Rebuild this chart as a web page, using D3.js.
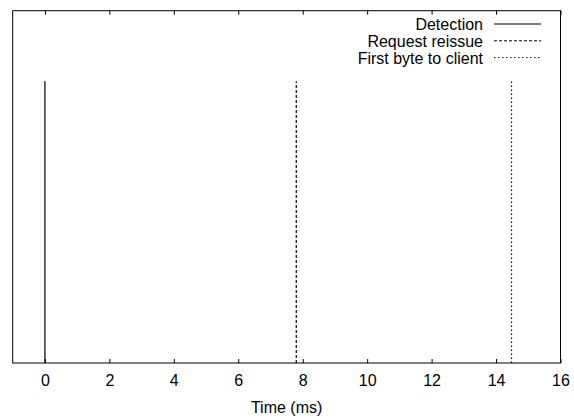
<!DOCTYPE html>
<html>
<head>
<meta charset="utf-8">
<script src="https://cdn.jsdelivr.net/npm/d3@7"></script>
<style>
  body { margin: 0; background: #fff; }
  svg { font-family: "Liberation Sans", Arial, sans-serif; }
</style>
</head>
<body>
<svg width="574" height="419"></svg>
<script>
// events on the time axis (ms)
const eventNames = ['Detection', 'Request reissue', 'First byte to client'];
const eventTimes = [0, 7.8, 14.48];
const eventHeights = [1, 1, 1];
const xTicks = [0, 2, 4, 6, 8, 10, 12, 14, 16];
const dashes = [null, '3,2', '1.5,2.5'];

let svg = d3.select('svg');
const plotLeft = 12.7, plotRight = 560.5, plotTop = 10.7, plotBottom = 363;
const fontPx = 16;

let x = d3.scaleLinear().domain([-1, 16]).range([plotLeft, plotRight]);
let y = d3.scaleLinear().domain([0, 1.25]).range([plotBottom, plotTop]);

// frame
svg.append('rect')
  .attr('x', plotLeft).attr('y', plotTop)
  .attr('width', plotRight - plotLeft).attr('height', plotBottom - plotTop)
  .attr('fill', 'none').attr('stroke', '#000').attr('stroke-width', 1);

// bottom axis with labels
let xAxis = svg.append('g')
  .attr('transform', 'translate(0,' + plotBottom + ')')
  .call(d3.axisBottom(x).tickValues(xTicks).tickSize(-4).tickPadding(12).tickFormat(d3.format('d')));
xAxis.select('.domain').remove();
xAxis.selectAll('text')
  .attr('font-size', fontPx).attr('fill', '#000')
  .attr('font-family', 'Liberation Sans, Arial, sans-serif');

// mirrored ticks on top
let xTop = svg.append('g')
  .attr('transform', 'translate(0,' + plotTop + ')')
  .call(d3.axisTop(x).tickValues(xTicks).tickSize(-4).tickFormat(''));
xTop.select('.domain').remove();

svg.append('text')
  .attr('x', (plotLeft + plotRight) / 2).attr('y', 413)
  .attr('text-anchor', 'middle').attr('font-size', fontPx)
  .text('Time (ms)');

// impulses
svg.selectAll('line.ev')
  .data(eventTimes)
  .enter().append('line')
  .attr('class', 'ev')
  .attr('x1', d => x(d)).attr('x2', d => x(d))
  .attr('y1', y(0)).attr('y2', (d, i) => y(eventHeights[i]))
  .attr('stroke', '#000').attr('stroke-width', 1.2)
  .attr('stroke-dasharray', (d, i) => dashes[i]);

// legend
let legend = svg.selectAll('g.leg')
  .data(eventNames)
  .enter().append('g')
  .attr('class', 'leg')
  .attr('transform', (d, i) => 'translate(0,' + (24 + i * 16.8) + ')');

legend.append('text')
  .attr('x', 483).attr('y', 6)
  .attr('text-anchor', 'end').attr('font-size', fontPx)
  .text(d => d);

legend.append('line')
  .attr('x1', 494).attr('x2', 541)
  .attr('y1', 0).attr('y2', 0)
  .attr('stroke', '#000').attr('stroke-width', 1)
  .attr('stroke-dasharray', (d, i) => dashes[i]);
</script>
</body>
</html>
